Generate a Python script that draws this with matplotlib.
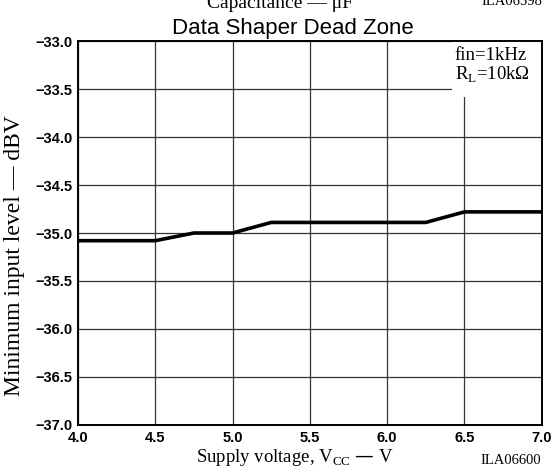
import matplotlib
matplotlib.use("Agg")
import matplotlib.pyplot as plt
from matplotlib.patches import Rectangle

# supply voltage (V) vs minimum input level (dBV)
vcc = [4.0, 4.5, 4.75, 5.0, 5.25, 6.25, 6.5, 7.0]
level = [-35.08, -35.08, -35.0, -35.0, -34.89, -34.89, -34.78, -34.78]

x_ticks = [4.0, 4.5, 5.0, 5.5, 6.0, 6.5, 7.0]
y_ticks = [-33.0, -33.5, -34.0, -34.5, -35.0, -35.5, -36.0, -36.5, -37.0]

SERIF = "Liberation Serif"
SANS = "Liberation Sans"

fig = plt.figure(figsize=(5.55, 4.72), dpi=100)
ax = fig.add_axes([0.1405, 0.0996, 0.8355, 0.8135])

ax.plot(vcc, level, color="black", linewidth=2.6, solid_capstyle="butt", zorder=3)

ax.set_xlim(4.0, 7.0)
ax.set_ylim(-37.0, -33.0)
ax.set_xticks(x_ticks)
ax.set_yticks(y_ticks)
ax.set_xticklabels([f"{v:.1f}" for v in x_ticks], fontfamily=SANS, fontweight="bold", fontsize=10.5)
ax.set_yticklabels([f"\u2212{abs(v):.1f}" for v in y_ticks], fontfamily=SANS, fontweight="bold", fontsize=10.5)
ax.tick_params(length=0, pad=4)
ax.grid(True, color="#333333", linewidth=0.9)
ax.set_axisbelow(True)
for s in ax.spines.values():
    s.set_linewidth(1.4)
    s.set_zorder(5)

# condition box in the top-right corner (covers the grid)
ax.add_patch(Rectangle((0.807, 0.854), 0.193, 0.146, transform=ax.transAxes,
                       facecolor="white", edgecolor="none", zorder=2))
ax.text(0.813, 0.961, "fin=1kHz", transform=ax.transAxes, ha="left", va="center",
        fontfamily=SERIF, fontsize=13.5, zorder=4)
ax.text(0.813, 0.911, "R$_\\mathregular{L}$=10k\u03a9", transform=ax.transAxes,
        ha="left", va="center", fontfamily=SERIF, fontsize=13.5, zorder=4)

fig.text(0.528, 0.918, "Data Shaper Dead Zone", ha="center", va="bottom",
         fontfamily=SANS, fontsize=16)
fig.text(0.027, 0.458, "Minimum input level \u2014 dBV", rotation=90, ha="center", va="center",
         fontfamily=SERIF, fontsize=17)
fig.text(0.532, 0.008, "Supply voltage, V$_\\mathregular{CC}$ \u2014 V", ha="center", va="bottom",
         fontfamily=SERIF, fontsize=13.5)
fig.text(0.975, 0.01, "ILA06600", ha="right", va="bottom", fontfamily=SERIF, fontsize=10.5)

# remnants of the chart above, clipped at the top edge
fig.text(0.505, 0.984, "Capacitance \u2014 \u03bcF", ha="center", va="baseline",
         fontfamily=SERIF, fontsize=14)
fig.text(0.978, 0.989, "ILA06598", ha="right", va="baseline", fontfamily=SERIF, fontsize=10.5)

fig.savefig("out.png", dpi=100)
